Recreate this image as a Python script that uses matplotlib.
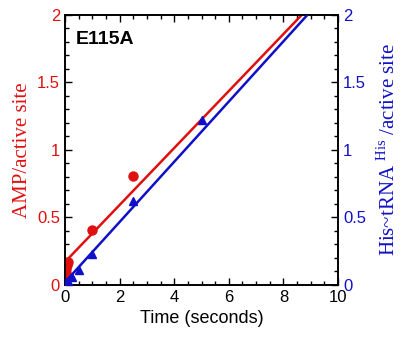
import numpy as np
import matplotlib.pyplot as plt
from matplotlib.ticker import MultipleLocator

plt.rcParams['mathtext.fontset'] = 'custom'
plt.rcParams['mathtext.rm'] = 'Liberation Serif'

# AMP burst data (red, left axis)
amp_t = [0.02, 0.05, 0.08, 0.1, 1.0, 2.5]
amp_y = [0.09, 0.12, 0.15, 0.17, 0.41, 0.81]
amp_fit = [0.17, 0.211]   # intercept, slope

# His~tRNA data (blue, right axis)
his_t = [0.02, 0.05, 0.1, 0.25, 0.5, 1.0, 2.5, 5.0]
his_y = [0.01, 0.02, 0.03, 0.06, 0.11, 0.23, 0.62, 1.22]
his_fit = [0.02, 0.223]

red = '#e01010'
blue = '#1010c8'

fig = plt.figure(figsize=(4.01, 3.38), dpi=100)
ax = fig.add_axes([0.162, 0.157, 0.681, 0.799])
ax2 = ax.twinx()

tt = np.linspace(0, 10, 200)
ax.plot(tt, amp_fit[0] + amp_fit[1] * tt, color=red, lw=1.8, zorder=3)
ax.plot(amp_t, amp_y, 'o', color=red, ms=6.5, zorder=4)
ax2.plot(tt, his_fit[0] + his_fit[1] * tt, color=blue, lw=1.8, zorder=3)
ax2.plot(his_t, his_y, '^', color=blue, ms=6, zorder=4)

for a in (ax, ax2):
    a.set_xlim(0, 10)
    a.set_ylim(0, 2)
    a.yaxis.set_major_locator(MultipleLocator(0.5))
    a.yaxis.set_minor_locator(MultipleLocator(0.1))
    a.tick_params(which='both', direction='in')
    a.tick_params(which='major', length=5, width=1)
    a.tick_params(which='minor', length=3, width=1)
    for s in a.spines.values():
        s.set_linewidth(1.2)

ax.xaxis.set_major_locator(MultipleLocator(2))
ax.xaxis.set_minor_locator(MultipleLocator(0.5))
ax.tick_params(axis='x', top=True, which='both', labelsize=12)
ax.tick_params(axis='y', labelcolor=red, labelsize=12)
ax2.tick_params(axis='y', labelcolor=blue, labelsize=12)

fmt = lambda v, p: ('%g' % v)
ax.yaxis.set_major_formatter(fmt)
ax2.yaxis.set_major_formatter(fmt)
ax.xaxis.set_major_formatter(fmt)

ax.set_xlabel('Time (seconds)', fontsize=13, family='Liberation Sans')
ax.set_ylabel('AMP/active site', color=red, fontsize=15, family='Liberation Serif')
ax2.set_ylabel('His~tRNA $^{\\mathrm{His}}$ /active site', color=blue, fontsize=15,
               family='Liberation Serif', labelpad=8)

ax.text(0.04, 0.94, 'E115A', transform=ax.transAxes, fontsize=14, fontweight='bold',
        family='Liberation Sans', va='top')

for lab in ax.get_xticklabels() + ax.get_yticklabels() + ax2.get_yticklabels():
    lab.set_family('Liberation Sans')

fig.savefig('out.png', dpi=100)
